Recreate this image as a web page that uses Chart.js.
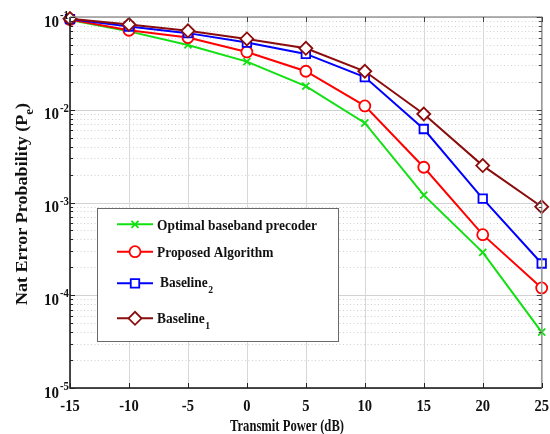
<!DOCTYPE html>
<html><head><meta charset="utf-8">
<script src="https://cdn.jsdelivr.net/npm/chart.js@4/dist/chart.umd.min.js"></script>
<style>html,body{margin:0;padding:0;background:#fff;overflow:hidden}</style>
</head><body>
<canvas id="c" width="550" height="434"></canvas>
<script>
// ---------- data ----------
const powerDb = [-15, -10, -5, 0, 5, 10, 15, 20, 25];
const optimalBaseband = [0.093, 0.070, 0.050, 0.033, 0.018, 0.0072, 0.0012, 0.00029, 0.00004];
const proposedAlgorithm = [0.094, 0.072, 0.060, 0.042, 0.026, 0.011, 0.0024, 0.00045, 0.00012];
const baseline2 = [0.095, 0.079, 0.067, 0.053, 0.040, 0.0225, 0.0062, 0.0011, 0.00022];
const baseline1 = [0.096, 0.083, 0.071, 0.058, 0.046, 0.026, 0.009, 0.0025, 0.0009];
const xTickValues = [-15, -10, -5, 0, 5, 10, 15, 20, 25];
const xTickLabels = ['-15', '-10', '-5', '0', '5', '10', '15', '20', '25'];
const yDecades = [1e-5, 1e-4, 1e-3, 1e-2, 1e-1];
const yTickExponents = ['-5', '-4', '-3', '-2', '-1'];
const yMinorFactors = [2, 3, 4, 5, 6, 7, 8, 9];
const seriesNames = ['Optimal baseband precoder', 'Proposed Algorithm', 'Baseline', 'Baseline'];
const seriesSubs = ['', '', '2', '1'];
const xTitle = 'Transmit Power (dB)';
const yTitleMain = 'Nat Error Probability (P';
const yTitleSub = 'e';
const yTitleEnd = ')';

// ---------- styles ----------
const FONT = '"Liberation Serif","Times New Roman",serif';
const styles = [
  {color: '#12e012', pointStyle: 'crossRot', radius: 5, order: 3},
  {color: '#ff0000', pointStyle: 'circle', radius: 5.5, order: 2},
  {color: '#0000ff', pointStyle: 'rect', radius: 6, order: 1},
  {color: '#8b0c0c', pointStyle: 'rectRot', radius: 6.5, order: 0}
];
const seriesValues = [optimalBaseband, proposedAlgorithm, baseline2, baseline1];

const datasets = seriesValues.map((vals, i) => ({
  label: seriesNames[i] + seriesSubs[i],
  data: powerDb.map((x, j) => ({x: x, y: vals[j]})),
  borderColor: styles[i].color,
  backgroundColor: styles[i].color,
  borderWidth: 2,
  pointStyle: styles[i].pointStyle,
  pointRadius: styles[i].radius,
  pointBorderWidth: 1.8,
  pointBorderColor: styles[i].color,
  pointBackgroundColor: '#ffffff',
  tension: 0,
  clip: false,
  order: styles[i].order
}));

// rich text helper: segs [{t, k:'n'|'sub'|'sup'}]
function segFont(k, size) {
  return 'bold ' + (k === 'n' ? size : size * 0.72) + 'px ' + FONT;
}
function richWidth(ctx, segs, size) {
  let w = 0;
  segs.forEach(s => { ctx.font = segFont(s.k, size); w += ctx.measureText(s.t).width + (s.gap || 0); });
  return w;
}
function drawRich(ctx, segs, x, y, size, align, sx, sy, rot) {
  ctx.save();
  ctx.translate(x, y);
  if (rot) ctx.rotate(rot);
  ctx.scale(sx, sy);
  ctx.textBaseline = 'alphabetic';
  ctx.textAlign = 'left';
  const w = richWidth(ctx, segs, size);
  let cx = align === 'center' ? -w / 2 : (align === 'right' ? -w : 0);
  segs.forEach(s => {
    ctx.font = segFont(s.k, size);
    cx += (s.gap || 0);
    const dy = s.k === 'sup' ? -size * 0.45 : (s.k === 'sub' ? size * 0.4 : 0);
    ctx.fillText(s.t, cx, dy);
    cx += ctx.measureText(s.t).width;
  });
  ctx.restore();
}

const decor = {
  id: 'decor',
  beforeDatasetsDraw(chart) {
    const {ctx, chartArea: a, scales} = chart;
    const xs = scales.x, ys = scales.y;
    ctx.save();
    ctx.lineWidth = 1;
    ys.ticks.forEach(t => {
      const py = Math.round(ys.getPixelForValue(t.value)) + 0.5;
      ctx.beginPath();
      if (t.major) { ctx.setLineDash([]); ctx.strokeStyle = '#d2d2d2'; }
      else { ctx.setLineDash([1, 2.5]); ctx.strokeStyle = '#d0d0d0'; }
      ctx.moveTo(a.left, py); ctx.lineTo(a.right, py); ctx.stroke();
    });
    ctx.setLineDash([]);
    ctx.strokeStyle = '#d8d8d8';
    xs.ticks.forEach(t => {
      const px = Math.round(xs.getPixelForValue(t.value)) + 0.5;
      ctx.beginPath(); ctx.moveTo(px, a.top); ctx.lineTo(px, a.bottom); ctx.stroke();
    });
    ctx.restore();
  },
  afterDraw(chart) {
    const {ctx, chartArea: a, scales} = chart;
    const xs = scales.x, ys = scales.y;
    ctx.save();
    // borders
    ctx.lineWidth = 1.5;
    ctx.strokeStyle = '#9a9a9a';
    ctx.beginPath(); ctx.moveTo(a.left, a.top); ctx.lineTo(a.right, a.top); ctx.lineTo(a.right, a.bottom); ctx.stroke();
    ctx.strokeStyle = '#111';
    ctx.beginPath(); ctx.moveTo(a.left, a.top); ctx.lineTo(a.left, a.bottom); ctx.lineTo(a.right, a.bottom); ctx.stroke();
    // tick marks (inward)
    ctx.lineWidth = 1;
    ys.ticks.forEach(t => {
      const py = Math.round(ys.getPixelForValue(t.value)) + 0.5;
      const len = t.major ? 5 : 3;
      ctx.strokeStyle = '#222';
      ctx.beginPath(); ctx.moveTo(a.left, py); ctx.lineTo(a.left + len, py); ctx.stroke();
      ctx.strokeStyle = '#444';
      ctx.beginPath(); ctx.moveTo(a.right, py); ctx.lineTo(a.right - len, py); ctx.stroke();
    });
    xs.ticks.forEach(t => {
      const px = Math.round(xs.getPixelForValue(t.value)) + 0.5;
      ctx.strokeStyle = '#222';
      ctx.beginPath(); ctx.moveTo(px, a.bottom); ctx.lineTo(px, a.bottom - 5); ctx.stroke();
      ctx.strokeStyle = '#444';
      ctx.beginPath(); ctx.moveTo(px, a.top); ctx.lineTo(px, a.top + 5); ctx.stroke();
    });
    ctx.fillStyle = '#111';
    // x tick labels
    xTickValues.forEach((v, i) => {
      const px = xs.getPixelForValue(v);
      drawRich(ctx, [{t: xTickLabels[i], k: 'n'}], px, a.bottom + 22.5, 15, 'center', 0.97, 1.12, 0);
    });
    // y tick labels
    yDecades.forEach((v, i) => {
      const py = ys.getPixelForValue(v);
      drawRich(ctx, [{t: '10', k: 'n'}, {t: yTickExponents[i], k: 'sup', gap: 1}], a.left - 1, py + 9.5, 15, 'right', 1, 1.08, 0);
    });
    // x title
    ctx.font = segFont('n', 16);
    const xtw = ctx.measureText(xTitle).width;
    drawRich(ctx, [{t: xTitle, k: 'n'}], 287, 431, 16, 'center', 114 / xtw, 1.05, 0);
    // y title (rotated)
    const ySegs = [{t: yTitleMain, k: 'n'}, {t: yTitleSub, k: 'sub'}, {t: yTitleEnd, k: 'n'}];
    const ytw = richWidth(ctx, ySegs, 16);
    drawRich(ctx, ySegs, 27, 204, 16, 'center', 202 / ytw, 1, -Math.PI / 2);
    // legend
    const L = {x0: 97, y0: 208, x1: 338, y1: 341};
    ctx.fillStyle = '#fff';
    ctx.fillRect(L.x0, L.y0, L.x1 - L.x0, L.y1 - L.y0);
    ctx.strokeStyle = '#6a6a6a';
    ctx.lineWidth = 1;
    ctx.strokeRect(L.x0 + 0.5, L.y0 + 0.5, L.x1 - L.x0, L.y1 - L.y0);
    const rowY = [224.3, 251.7, 283.3, 318.3];
    const textBase = [229.5, 256.7, 287, 322.5];
    const textX = [157, 157, 160, 157];
    ctx.font = segFont('n', 14);
    const lsx = 160 / ctx.measureText(seriesNames[0]).width;
    styles.forEach((s, i) => {
      ctx.strokeStyle = s.color;
      ctx.lineWidth = 2;
      ctx.beginPath(); ctx.moveTo(117, rowY[i]); ctx.lineTo(153, rowY[i]); ctx.stroke();
      ctx.lineWidth = 1.8;
      ctx.fillStyle = '#fff';
      Chart.helpers.drawPoint(ctx, {pointStyle: s.pointStyle, radius: s.radius, borderWidth: 1.8, rotation: 0}, 135, rowY[i]);
      ctx.fillStyle = '#111';
      const segs = [{t: seriesNames[i], k: 'n'}];
      if (seriesSubs[i]) segs.push({t: seriesSubs[i], k: 'sub', gap: 0.5});
      drawRich(ctx, segs, textX[i], textBase[i], 14, 'left', lsx, 1.08, 0);
    });
    ctx.restore();
  }
};

new Chart(document.getElementById('c'), {
  type: 'line',
  data: {datasets: datasets},
  options: {
    responsive: false,
    animation: false,
    devicePixelRatio: 1,
    layout: {padding: {left: 70, right: 5, top: 17, bottom: 46}},
    plugins: {legend: {display: false}, tooltip: {enabled: false}, title: {display: false}},
    scales: {
      x: {
        type: 'linear', min: -15, max: 25,
        ticks: {display: false},
        grid: {display: false, drawTicks: false},
        border: {display: false},
        afterBuildTicks: s => { s.ticks = xTickValues.map(v => ({value: v})); },
        afterFit: s => { s.height = 0; }
      },
      y: {
        type: 'logarithmic', min: 1e-5, max: 1e-1,
        ticks: {display: false},
        grid: {display: false, drawTicks: false},
        border: {display: false},
        afterBuildTicks: s => {
          const t = [];
          yDecades.forEach((d, i) => {
            t.push({value: d, major: true});
            if (i < yDecades.length - 1) yMinorFactors.forEach(f => t.push({value: d * f, major: false}));
          });
          s.ticks = t;
        },
        afterFit: s => { s.width = 0; }
      }
    }
  },
  plugins: [decor]
});
</script>
</body></html>
